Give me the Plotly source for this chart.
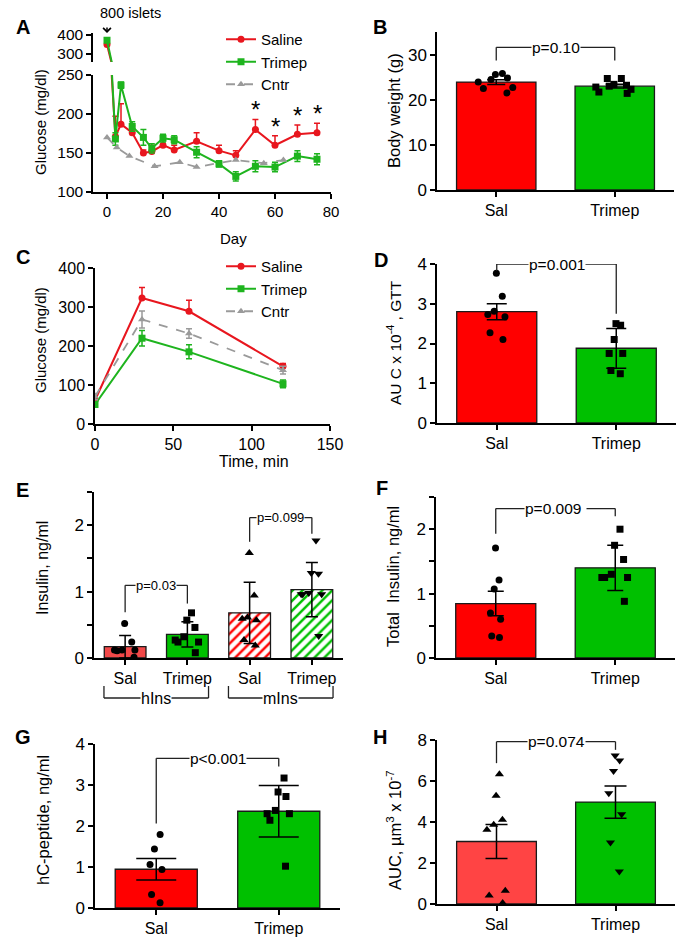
import plotly.graph_objects as go

W, H = 698, 938
def dx(p): return p / W
def dy(p): return 1 - p / H

FONT = "Liberation Sans, Arial, sans-serif"
RED = '#FF0000'; GREEN = '#00C000'; LRED = '#F24848'
LRED_LINE = '#E8161E'; LGREEN_LINE = '#1EB41E'; GRAY = '#9A9A9A'

# ---------------- Panel A data ----------------
A_sal_days = [0, 3, 5, 9, 13, 16, 20, 24, 32, 40, 46, 53, 60, 68, 75]
A_sal = [350, 171, 187, 176, 150, 152, 160, 154, 165, 153, 147, 180, 160, 174, 176]
A_sal_err = [5, 26, 26, 9, 4, 8, 9, 6, 11, 7, 6, 13, 12, 12, 12]
A_trim_days = [0, 3, 5, 9, 13, 16, 20, 24, 32, 40, 46, 53, 60, 68, 75]
A_trim = [372, 168, 237, 184, 170, 156, 169, 167, 151, 136, 120, 133, 132, 146, 142]
A_trim_err = [5, 8, 4, 6, 10, 6, 5, 5, 7, 4, 6, 7, 6, 7, 7]
A_cntr_days = [0, 3.5, 8, 17, 26, 32, 46, 56, 63]
A_cntr = [170, 157, 146, 133, 138, 132, 141, 137, 141]
A_star_days = [53, 60, 68, 75]

# ---------------- Panel B data ----------------
B_cats = ['Sal', 'Trimep']
B_mean = [23.9, 23.0]
B_sem = [0.55, 0.4]
B_sal_pts = [25.6, 24.5, 23.9, 24.8, 25.8, 22.7, 22.5, 21.5]
B_trim_pts = [23.2, 22.3, 24.7, 24.7, 21.4, 21.7, 23.0, 23.4, 22.8]

# ---------------- Panel C data ----------------
C_time = [0, 30, 60, 120]
C_sal = [61, 323, 289, 148]
C_sal_err = [6, 27, 28, 7]
C_trim = [50, 220, 185, 103]
C_trim_err = [5, 20, 18, 10]
C_cntr = [70, 268, 232, 138]
C_cntr_err = [8, 22, 12, 10]

# ---------------- Panel D data ----------------
D_cats = ['Sal', 'Trimep']
D_mean = [2.80, 1.88]
D_sem = [0.2, 0.5]
D_sal_pts = [3.77, 3.19, 2.73, 2.67, 2.81, 2.27, 2.10]
D_trim_pts = [2.50, 2.46, 2.10, 1.75, 1.75, 1.32, 1.24]

# ---------------- Panel E data ----------------
E_ids = ['hIns Sal', 'hIns Trimep', 'mIns Sal', 'mIns Trimep']
E_ticks = ['Sal', 'Trimep', 'Sal', 'Trimep']
E_groups = ['hIns', 'mIns']
E_mean = [0.17, 0.357, 0.68, 1.03]
E_sem = [0.17, 0.19, 0.46, 0.41]
E_hsal_pts = [0.52, 0.24, 0.12, 0.11, 0.12, 0.12, 0.01]
E_htrim_pts = [0.68, 0.57, 0.46, 0.32, 0.24, 0.24, 0.27, 0.08]
E_msal_pts = [1.58, 0.94, 0.59, 0.57, 0.61, 0.27, 0.19]
E_mtrim_pts = [1.77, 1.27, 1.28, 0.98, 0.96, 0.96, 0.96, 0.33]

# ---------------- Panel F data ----------------
F_cats = ['Sal', 'Trimep']
F_mean = [0.845, 1.40]
F_sem = [0.19, 0.35]
F_sal_pts = [1.71, 1.21, 1.07, 0.70, 0.60, 0.32, 0.34]
F_trim_pts = [2.0, 1.75, 1.53, 1.30, 1.25, 1.25, 1.25, 0.88]

# ---------------- Panel G data ----------------
G_cats = ['Sal', 'Trimep']
G_mean = [0.945, 2.36]
G_sem = [0.26, 0.63]
G_sal_pts = [1.79, 1.44, 1.06, 0.94, 0.33, 0.13]
G_trim_pts = [3.17, 2.72, 2.83, 2.38, 2.30, 2.30, 2.14, 1.02]

# ---------------- Panel H data ----------------
H_cats = ['Sal', 'Trimep']
H_mean = [3.05, 4.97]
H_sem = [0.83, 0.79]
H_sal_pts = [6.33, 5.28, 4.11, 3.86, 3.62, 0.65, 0.42, 0.05]
H_trim_pts = [7.24, 7.0, 6.49, 5.4, 4.38, 3.0, 1.59]

fig = go.Figure()
layout = dict(width=W, height=H, margin=dict(l=0, r=0, t=0, b=0, pad=0, autoexpand=False),
              paper_bgcolor='white', plot_bgcolor='white',
              font=dict(family=FONT, color='black'), boxmode='overlay',
              showlegend=True)
annotations = []
shapes = []

def axis_style(size=15):
    return dict(showline=True, linecolor='black', linewidth=1.5, ticks='outside',
                ticklen=5, tickwidth=1.5, tickcolor='black', showgrid=False,
                zeroline=False, tickfont=dict(family=FONT, size=size, color='black'),
                fixedrange=True, automargin=False)

def set_axes(i, xdom, ydom, xr, yr, xextra=None, yextra=None, xsize=16, ysize=17):
    xn = 'xaxis' if i == 1 else f'xaxis{i}'
    yn = 'yaxis' if i == 1 else f'yaxis{i}'
    xa = axis_style(xsize); ya = axis_style(ysize)
    xa.update(domain=[dx(xdom[0]), dx(xdom[1])], range=xr, anchor=f'y{i if i > 1 else ""}')
    ya.update(domain=[dy(ydom[1]), dy(ydom[0])], range=yr, anchor=f'x{i if i > 1 else ""}')
    if xextra: xa.update(xextra)
    if yextra: ya.update(yextra)
    layout[xn] = xa; layout[yn] = ya

def ref(i):
    return ('x' if i == 1 else f'x{i}'), ('y' if i == 1 else f'y{i}')

def ytitle(text, cx, cy, size=16.5):
    annotations.append(dict(text=text, x=dx(cx), y=dy(cy), xref='paper', yref='paper',
                            textangle=-90, showarrow=False, xanchor='center', yanchor='middle',
                            font=dict(family=FONT, size=size, color='black')))

def letter(text, cx, cy):
    annotations.append(dict(text=f'<b>{text}</b>', x=dx(cx), y=dy(cy), xref='paper', yref='paper',
                            showarrow=False, xanchor='center', yanchor='middle',
                            font=dict(family='Liberation Sans, Arial', size=20, color='black')))

def bracket(i, x0, x1, ytop, yl, yr, label, size=15.5):
    xr_, yr_ = ref(i)
    ln = dict(color='#222222', width=1.3)
    shapes.append(dict(type='line', xref=xr_, yref=yr_, x0=x0, x1=x0, y0=yl, y1=ytop, line=ln))
    shapes.append(dict(type='line', xref=xr_, yref=yr_, x0=x0, x1=x1, y0=ytop, y1=ytop, line=ln))
    shapes.append(dict(type='line', xref=xr_, yref=yr_, x0=x1, x1=x1, y0=yr, y1=ytop, line=ln))
    annotations.append(dict(text=label, x=(x0 + x1) / 2, y=ytop, xref=xr_, yref=yr_,
                            showarrow=False, xanchor='center', yanchor='middle', bgcolor='white',
                            borderpad=0, font=dict(family=FONT, size=size, color='black')))

def bars(i, cats, means, sems, colors, capw, patterns=None):
    xr_, yr_ = ref(i)
    marker = dict(color=colors, line=dict(color='#1a1a1a', width=1.3))
    if patterns:
        marker['pattern'] = dict(shape=patterns, fgcolor='white', bgcolor=colors,
                                 size=7, solidity=0.35, fillmode='replace')
    fig.add_trace(go.Bar(x=cats, y=means, width=0.67, marker=marker, showlegend=False,
                         error_y=dict(type='data', array=sems, color='black', thickness=1.5, width=capw),
                         xaxis=xr_, yaxis=yr_, hoverinfo='skip'))

def points(i, cat, vals, symbol, spread, size=7):
    xr_, yr_ = ref(i)
    fig.add_trace(go.Box(x=[cat] * len(vals), y=vals, boxpoints='all', jitter=1, pointpos=0,
                         width=spread, fillcolor='rgba(0,0,0,0)',
                         line=dict(width=0, color='rgba(0,0,0,0)'),
                         marker=dict(symbol=symbol, size=size, color='black'),
                         showlegend=False, hoverinfo='skip', xaxis=xr_, yaxis=yr_))

MINOR = dict(tickvals=[0.5, 1.5, 2.5], ticks='outside', ticklen=5, tickwidth=1.5, tickcolor='black')

# ================= Panel A =================
set_axes(1, (93, 331), (75, 192), [-5, 80], [100, 250],
         xextra=dict(tickvals=[0, 20, 40, 60, 80]),
         yextra=dict(tickvals=[100, 150, 200, 250]), xsize=15, ysize=15.5)
set_axes(2, (93, 331), (33, 62), [-5, 80], [258, 410],
         xextra=dict(visible=False, matches='x'),
         yextra=dict(tickvals=[300, 400]), xsize=15, ysize=15.5)
for i, show in ((1, True), (2, False)):
    xr_, yr_ = ref(i)
    fig.add_trace(go.Scatter(x=A_sal_days, y=A_sal, name='Saline', mode='lines+markers',
                             line=dict(color=LRED_LINE, width=2), marker=dict(symbol='circle', size=7),
                             error_y=dict(type='data', symmetric=False, array=A_sal_err,
                                          arrayminus=[0] * len(A_sal_err), color=LRED_LINE,
                                          thickness=1.5, width=3),
                             showlegend=show, legend='legend', xaxis=xr_, yaxis=yr_))
    fig.add_trace(go.Scatter(x=A_trim_days, y=A_trim, name='Trimep', mode='lines+markers',
                             line=dict(color=LGREEN_LINE, width=2), marker=dict(symbol='square', size=7),
                             error_y=dict(type='data', array=A_trim_err, color=LGREEN_LINE,
                                          thickness=1.5, width=3),
                             showlegend=show, legend='legend', xaxis=xr_, yaxis=yr_))
    fig.add_trace(go.Scatter(x=A_cntr_days, y=A_cntr, name='Cntr', mode='lines+markers',
                             line=dict(color=GRAY, width=1.8, dash='dash'),
                             marker=dict(symbol='triangle-up', size=7),
                             showlegend=show, legend='legend', xaxis=xr_, yaxis=yr_))
# stars
sal_lookup = dict(zip(A_sal_days, zip(A_sal, A_sal_err)))
for d in A_star_days:
    m, e = sal_lookup[d]
    annotations.append(dict(text='*', x=d, y=m + e, xref='x', yref='y', showarrow=False,
                            xanchor='center', yanchor='bottom', yshift=-6,
                            font=dict(family=FONT, size=24, color='black')))
annotations.append(dict(text='800 islets', x=dx(130), y=dy(13), xref='paper', yref='paper',
                        showarrow=False, xanchor='center', yanchor='middle',
                        font=dict(family=FONT, size=14.5, color='black')))
annotations.append(dict(text=' ', x=0, y=dy(33), xref='x', yref='paper', showarrow=True,
                        ax=0, ay=-14, arrowhead=4, arrowsize=1, arrowwidth=1.5, arrowcolor='black'))
ytitle('Glucose (mg/dl)', 40, 122, size=15)
annotations.append(dict(text='Day', x=dx(218), y=dy(228), xref='paper', yref='paper',
                        showarrow=False, font=dict(family=FONT, size=15, color='black')))
letter('A', 23, 27)
layout['legend'] = dict(x=dx(221), y=dy(23), xanchor='left', yanchor='top',
                        bgcolor='rgba(0,0,0,0)', font=dict(family=FONT, size=15, color='black'),
                        itemwidth=30, tracegroupgap=0)

# ================= Panel B =================
set_axes(3, (437, 674), (32, 190), [-0.5, 1.5], [0, 35],
         yextra=dict(tickvals=[0, 10, 20, 30]))
bars(3, B_cats, B_mean, B_sem, [RED, GREEN], 9)
points(3, 'Sal', B_sal_pts, 'circle', 0.38)
points(3, 'Trimep', B_trim_pts, 'square', 0.42)
bracket(3, 0, 1, 31.6, 28.7, 28.7, 'p=0.10')
ytitle('Body weight (g)', 394, 111)
letter('B', 380, 27)

# ================= Panel C =================
set_axes(4, (95, 330), (268, 424), [0, 150], [0, 400],
         xextra=dict(tickvals=[0, 50, 100, 150]),
         yextra=dict(tickvals=[0, 100, 200, 300, 400]), xsize=16, ysize=16)
fig.add_trace(go.Scatter(x=C_time, y=C_sal, name='Saline', mode='lines+markers',
                         line=dict(color=LRED_LINE, width=2), marker=dict(symbol='circle', size=7),
                         error_y=dict(type='data', symmetric=False, array=C_sal_err,
                                      arrayminus=[0] * len(C_sal_err), color=LRED_LINE,
                                      thickness=1.5, width=3),
                         legend='legend2', xaxis='x4', yaxis='y4'))
fig.add_trace(go.Scatter(x=C_time, y=C_trim, name='Trimep', mode='lines+markers',
                         line=dict(color=LGREEN_LINE, width=2), marker=dict(symbol='square', size=7),
                         error_y=dict(type='data', array=C_trim_err, color=LGREEN_LINE,
                                      thickness=1.5, width=3),
                         legend='legend2', xaxis='x4', yaxis='y4'))
fig.add_trace(go.Scatter(x=C_time, y=C_cntr, name='Cntr', mode='lines+markers',
                         line=dict(color=GRAY, width=1.8, dash='dash'),
                         marker=dict(symbol='triangle-up', size=7),
                         error_y=dict(type='data', array=C_cntr_err, color=GRAY, thickness=1.5, width=3),
                         legend='legend2', xaxis='x4', yaxis='y4'))
ytitle('Glucose (mg/dl)', 40, 340, size=15)
annotations.append(dict(text='Time, min', x=dx(217), y=dy(461), xref='paper', yref='paper',
                        showarrow=False, font=dict(family=FONT, size=16, color='black')))
letter('C', 23, 257)
layout['legend2'] = dict(x=dx(221), y=dy(250), xanchor='left', yanchor='top',
                         bgcolor='rgba(0,0,0,0)', font=dict(family=FONT, size=15, color='black'),
                         itemwidth=30, tracegroupgap=0)

# ================= Panel D =================
set_axes(5, (437, 676), (264, 423), [-0.5, 1.5], [0, 4],
         yextra=dict(tickvals=[0, 1, 2, 3, 4]))
bars(5, D_cats, D_mean, D_sem, [RED, GREEN], 10)
points(5, 'Sal', D_sal_pts, 'circle', 0.2)
points(5, 'Trimep', D_trim_pts, 'square', 0.14)
bracket(5, 0, 1, 4.0, 3.83, 2.75, 'p=0.001')
ytitle('AU C x 10<sup>-4</sup> , GTT', 394, 343, size=15.5)
letter('D', 381, 260)

# ================= Panel E =================
set_axes(6, (94, 343), (492, 658), [-0.5, 3.5], [0, 2.5],
         xextra=dict(tickvals=E_ids, ticktext=E_ticks),
         yextra=dict(tickvals=[0, 1, 2], minor=MINOR))
bars(6, E_ids, E_mean, E_sem, [LRED, GREEN, RED, GREEN], 6, patterns=['', '', '/', '/'])
points(6, E_ids[0], E_hsal_pts, 'circle', 0.55)
points(6, E_ids[1], E_htrim_pts, 'square', 0.5)
points(6, E_ids[2], E_msal_pts, 'triangle-up', 0.35, size=8)
points(6, E_ids[3], E_mtrim_pts, 'triangle-down', 0.5, size=8)
bracket(6, 0, 1, 1.095, 0.69, 0.82, 'p=0.03', size=13)
bracket(6, 2, 3, 2.115, 1.75, 1.87, 'p=0.099', size=13)
for g, (a, b) in zip(E_groups, ((0, 1), (2, 3))):
    ln = dict(color='#222222', width=1.3)
    x0, x1 = a - 0.34, b + 0.34
    shapes.append(dict(type='line', xref='x6', yref='paper', x0=x0, x1=x0, y0=dy(686), y1=dy(698), line=ln))
    shapes.append(dict(type='line', xref='x6', yref='paper', x0=x0, x1=x1, y0=dy(698), y1=dy(698), line=ln))
    shapes.append(dict(type='line', xref='x6', yref='paper', x0=x1, x1=x1, y0=dy(686), y1=dy(698), line=ln))
    annotations.append(dict(text=g, x=(a + b) / 2, y=dy(698), xref='x6', yref='paper', showarrow=False,
                            xanchor='center', yanchor='middle', bgcolor='white', borderpad=0,
                            font=dict(family=FONT, size=16, color='black')))
ytitle('Insulin, ng/ml', 42, 568, size=16)
letter('E', 23, 490)

# ================= Panel F =================
set_axes(7, (436, 675), (497, 658), [-0.5, 1.5], [0, 2.5],
         yextra=dict(tickvals=[0, 1, 2], minor=MINOR))
bars(7, F_cats, F_mean, F_sem, [RED, GREEN], 8)
points(7, 'Sal', F_sal_pts, 'circle', 0.12)
points(7, 'Trimep', F_trim_pts, 'square', 0.3)
bracket(7, 0, 1, 2.32, 1.93, 2.2, 'p=0.009 ')
ytitle('Total  Insulin, ng/ml', 393, 577)
letter('F', 382, 488)

# ================= Panel G =================
set_axes(8, (95, 340), (744, 908), [-0.5, 1.5], [0, 4],
         yextra=dict(tickvals=[0, 1, 2, 3, 4]))
bars(8, G_cats, G_mean, G_sem, [RED, GREEN], 20)
points(8, 'Sal', G_sal_pts, 'circle', 0.12)
points(8, 'Trimep', G_trim_pts, 'square', 0.3)
bracket(8, 0, 1, 3.65, 2.06, 3.45, 'p<0.001')
ytitle('hC-peptide, ng/ml', 43, 820)
letter('G', 23, 737)

# ================= Panel H =================
set_axes(9, (437, 675), (740, 904), [-0.5, 1.5], [0, 8],
         yextra=dict(tickvals=[0, 2, 4, 6, 8]))
bars(9, H_cats, H_mean, H_sem, ['#FF4444', GREEN], 11)
points(9, 'Sal', H_sal_pts, 'triangle-up', 0.2, size=8)
points(9, 'Trimep', H_trim_pts, 'triangle-down', 0.14, size=8)
bracket(9, 0, 1, 7.92, 6.87, 7.52, 'p=0.074')
ytitle('AUC, µm<sup>3</sup> x 10<sup>-7</sup>', 394, 830)
letter('H', 380, 737)

layout['annotations'] = annotations
layout['shapes'] = shapes
fig.update_layout(**layout)
fig.write_html("out.html", config={'displayModeBar': False},
               post_script="document.body.style.margin='0px';document.body.style.padding='0px';")
